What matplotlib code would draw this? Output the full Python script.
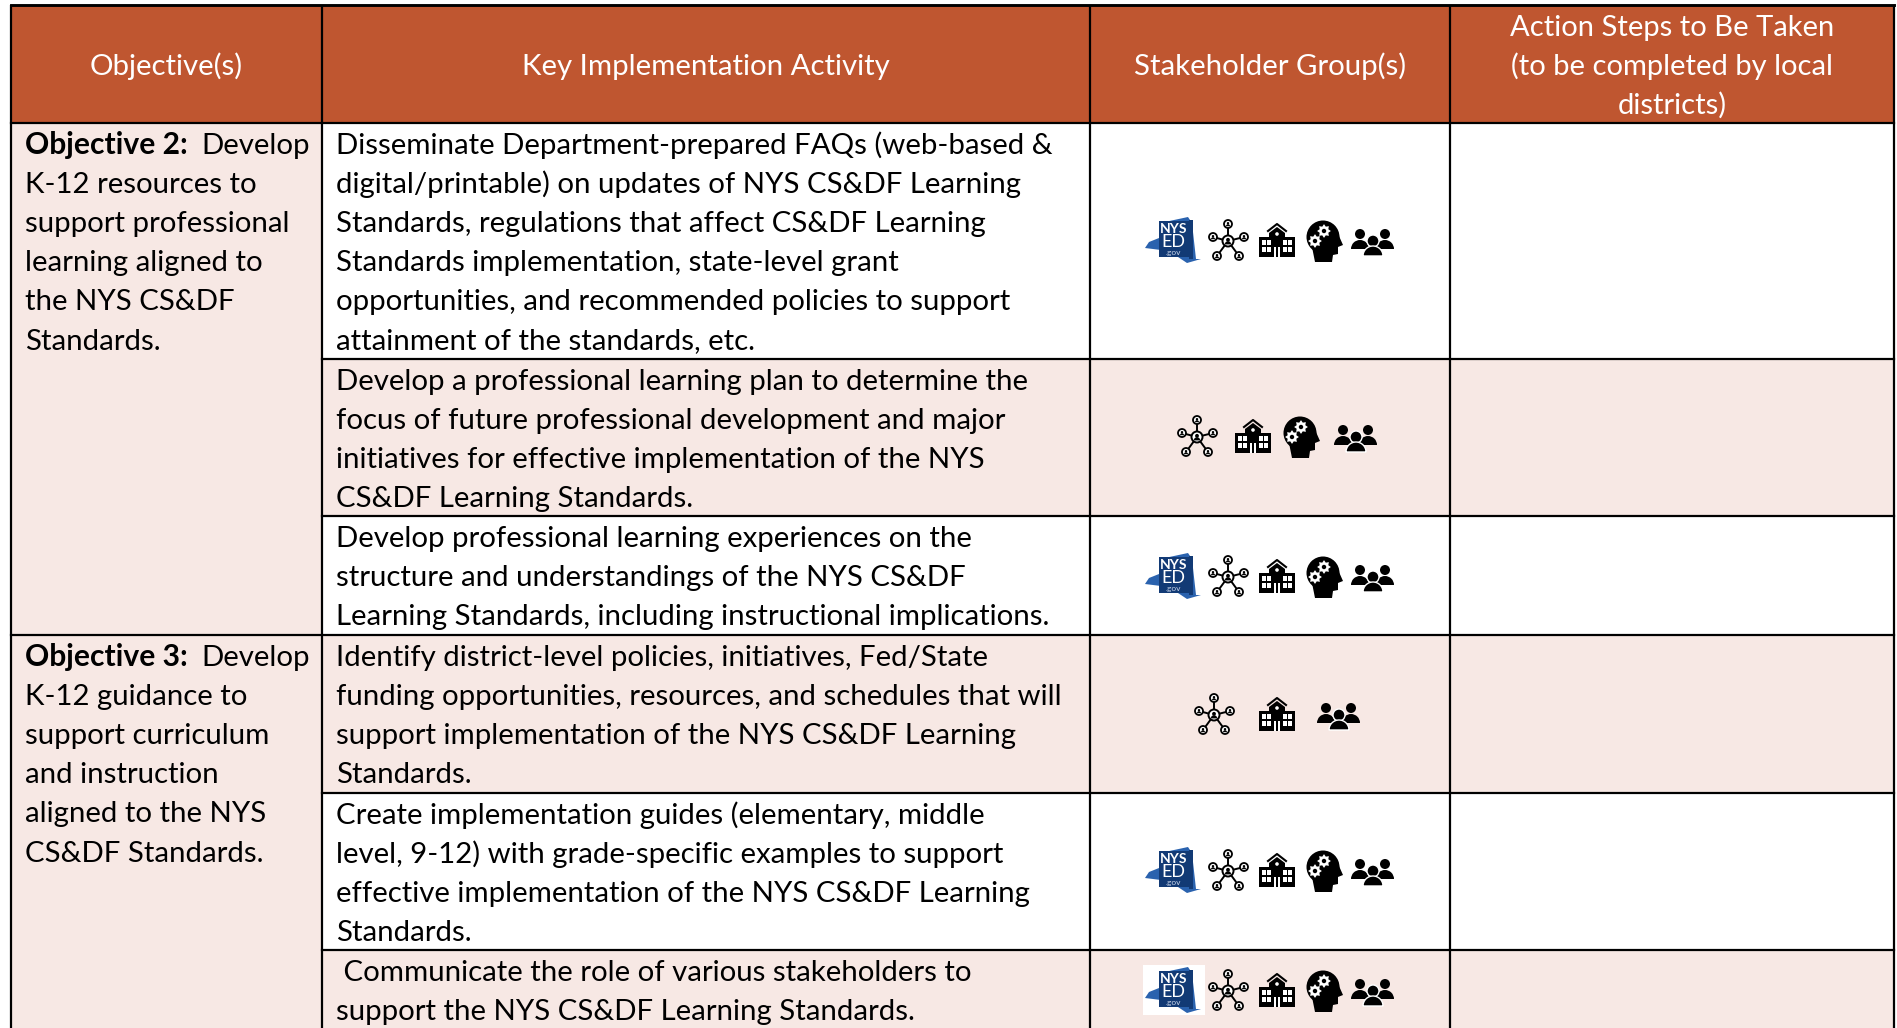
import numpy as np
import matplotlib
matplotlib.use("Agg")
import matplotlib.pyplot as plt
from matplotlib.patches import Rectangle, Circle, Wedge, Polygon

plt.rcParams["font.family"] = ["Lato", "DejaVu Sans"]

# table content
headers = ["Objective(s)", "Key Implementation Activity", "Stakeholder Group(s)",
           "Action Steps to Be Taken\n(to be completed by local\ndistricts)"]

obj2_title = "Objective 2:"
obj2_first = "  Develop"
obj2_rest = ["K-12 resources to", "support professional", "learning aligned to",
             "the NYS CS&DF", "Standards."]
obj3_title = "Objective 3:"
obj3_first = "  Develop"
obj3_rest = ["K-12 guidance to", "support curriculum", "and instruction",
             "aligned to the NYS", "CS&DF Standards."]

activities = [
    ["Disseminate Department-prepared FAQs (web-based &",
     "digital/printable) on updates of NYS CS&DF Learning",
     "Standards, regulations that affect CS&DF Learning",
     "Standards implementation, state-level grant",
     "opportunities, and recommended policies to support",
     "attainment of the standards, etc."],
    ["Develop a professional learning plan to determine the",
     "focus of future professional development and major",
     "initiatives for effective implementation of the NYS",
     "CS&DF Learning Standards."],
    ["Develop professional learning experiences on the",
     "structure and understandings of the NYS CS&DF",
     "Learning Standards, including instructional implications."],
    ["Identify district-level policies, initiatives, Fed/State",
     "funding opportunities, resources, and schedules that will",
     "support implementation of the NYS CS&DF Learning",
     "Standards."],
    ["Create implementation guides (elementary, middle",
     "level, 9-12) with grade-specific examples to support",
     "effective implementation of the NYS CS&DF Learning",
     "Standards."],
    [" Communicate the role of various stakeholders to",
     "support the NYS CS&DF Learning Standards."],
]

stakeholders = [
    ["ned", "net", "school", "head", "people"],
    ["net", "school", "head", "people"],
    ["ned", "net", "school", "head", "people"],
    ["net", "school", "people"],
    ["ned", "net", "school", "head", "people"],
    ["ned", "net", "school", "head", "people"],
]

# layout in pixels
W, H = 1897, 1028
col_x = [11, 322, 1090, 1450, 1894]
row_y = [123, 359, 516, 635, 793, 950, 1040]
top = 5
pitch = 39.1
FS = 21.2
ORANGE = "#BF5630"
PINK = "#F7E8E4"

icon_y = [241, 437, 577, 715, 871, 991]
icon_x = {5: {"ned": 1171, "net": 1228, "school": 1277, "head": 1325, "people": 1373},
          4: {"net": 1197, "school": 1253, "head": 1302, "people": 1356},
          3: {"net": 1214, "school": 1277, "people": 1339}}

fig = plt.figure(figsize=(W / 100, H / 100), dpi=100)
ax = fig.add_axes([0, 0, 1, 1])
ax.set_xlim(0, W)
ax.set_ylim(H, 0)
ax.axis("off")


def draw_ned(x, y, bg=False):
    if bg:
        ax.add_patch(Rectangle((x - 28, y - 26), 62, 50, fc="white", ec="none", zorder=3))
    ax.add_patch(Polygon([(x - 26, y + 7), (x - 22, y + 1), (x - 12, y - 3), (x - 11, y - 18),
                          (x + 17, y - 24), (x + 21, y - 18), (x + 25, y + 18), (x + 30, y + 18),
                          (x + 16, y + 22), (x - 2, y + 10)], fc="#2A62AE", ec="none", zorder=4))
    ax.add_patch(Rectangle((x - 12, y - 20), 30, 36, fc="#123A75", ec="none", zorder=5))
    ax.add_patch(Rectangle((x + 18, y - 21), 4, 39, fc="#123A75", ec="none", zorder=5))
    ax.text(x + 3, y - 12, "NYS", color="white", fontsize=10, fontweight="bold",
            ha="center", va="center", zorder=6)
    ax.text(x + 2, y + 1, "ED", color="white", fontsize=13, ha="center", va="center", zorder=6)
    ax.text(x + 2, y + 12, ".gov", color="#C8D4E8", fontsize=6, ha="center", va="center", zorder=6)


def draw_net(x, y):
    nodes = [(0, -17), (-15, -4), (16, -4), (-11, 15), (11, 15)]
    for dx, dy in nodes:
        ax.plot([x, x + dx], [y, y + dy], color="black", lw=1.4, zorder=4)
    ax.add_patch(Circle((x, y), 5.5, fc="white", ec="black", lw=1.4, zorder=5))
    ax.add_patch(Circle((x, y - 1.2), 1.9, fc="black", ec="none", zorder=6))
    ax.add_patch(Wedge((x, y + 3.4), 3.2, 180, 360, fc="black", ec="none", zorder=6))
    for dx, dy in nodes:
        ax.add_patch(Circle((x + dx, y + dy), 4, fc="white", ec="black", lw=1.3, zorder=5))
        ax.add_patch(Circle((x + dx, y + dy - 0.8), 1.2, fc="black", ec="none", zorder=6))
        ax.add_patch(Wedge((x + dx, y + dy + 2.2), 2, 180, 360, fc="black", ec="none", zorder=6))


def draw_school(x, y):
    ax.add_patch(Rectangle((x - 18, y - 4), 36, 20, fc="black", ec="none", zorder=4))
    ax.add_patch(Polygon([(x - 8, y - 8), (x, y - 14), (x + 8, y - 8), (x + 8, y), (x - 8, y)],
                         fc="black", ec="none", zorder=4))
    ax.plot([x - 9, x, x + 9], [y - 10, y - 17, y - 10], color="black", lw=1.5, zorder=4)
    ax.add_patch(Circle((x, y - 7), 1.8, fc="white", ec="none", zorder=5))
    for wx in [-15, -10, 6, 11]:
        for wy in [-1, 6]:
            ax.add_patch(Rectangle((x + wx, y + wy), 4, 5, fc="white", ec="none", zorder=5))
    ax.add_patch(Rectangle((x - 3, y + 6), 6, 10, fc="white", ec="none", zorder=5))
    ax.add_patch(Rectangle((x - 1, y + 6), 2, 10, fc="black", ec="none", zorder=6))


def draw_gear(x, y, r):
    ang = np.linspace(0, 2 * np.pi, 16, endpoint=False)
    rad = np.where(np.arange(16) % 2 == 0, r * 1.25, r * 0.85)
    ax.add_patch(Polygon(np.c_[x + rad * np.cos(ang), y + rad * np.sin(ang)],
                         fc="white", ec="none", zorder=5))
    ax.add_patch(Circle((x, y), r * 0.4, fc="black", ec="none", zorder=6))


def draw_head(x, y):
    ax.add_patch(Circle((x - 2, y - 4), 16.5, fc="black", ec="none", zorder=4))
    ax.add_patch(Polygon([(x - 13, y + 6), (x - 10, y + 21), (x + 7, y + 21), (x + 8, y + 14),
                          (x + 13, y + 13), (x + 13, y + 6), (x + 18, y + 4), (x + 14, y - 5),
                          (x + 5, y - 8)], fc="black", ec="none", zorder=4))
    draw_gear(x - 1, y - 10, 5.5)
    draw_gear(x - 10, y + 0, 5.5)


def draw_people(x, y):
    for dx in [-13, 12]:
        ax.add_patch(Circle((x + dx, y - 7), 5, fc="black", ec="none", zorder=4))
        ax.add_patch(Wedge((x + dx, y + 8), 9, 180, 360, fc="black", ec="none", zorder=4))
    ax.add_patch(Circle((x, y), 6, fc="black", ec="white", lw=1, zorder=5))
    ax.add_patch(Wedge((x, y + 15), 10, 180, 360, fc="black", ec="white", lw=1, zorder=5))


def label_lines(x, y, lines, **kw):
    for i, line in enumerate(lines):
        ax.text(x, y + i * pitch, line, fontsize=FS, va="baseline", ha="left", color="black", **kw)


# fills
ax.add_patch(Rectangle((col_x[0], top), col_x[-1] - col_x[0], row_y[0] - top, fc=ORANGE, ec="none"))
ax.add_patch(Rectangle((col_x[0], row_y[0]), col_x[1] - col_x[0], H - row_y[0], fc=PINK, ec="none"))
for i in range(6):
    c = "white" if i % 2 == 0 else PINK
    ax.add_patch(Rectangle((col_x[1], row_y[i]), col_x[-1] - col_x[1], row_y[i + 1] - row_y[i], fc=c, ec="none"))

# rules
lw = 1.6
for x in col_x:
    ax.plot([x, x], [top, H + 5], color="black", lw=lw, solid_capstyle="butt", zorder=2)
ax.plot([col_x[0], col_x[-1]], [top, top], color="black", lw=lw * 1.3, zorder=2)
for i, y in enumerate(row_y[:-1]):
    x0 = col_x[0] if i in (0, 3) else col_x[1]
    ax.plot([x0, col_x[-1]], [y, y], color="black", lw=lw, zorder=2)

# header
for i, h in enumerate(headers):
    cx = (col_x[i] + col_x[i + 1]) / 2
    if "\n" in h:
        for j, part in enumerate(h.split("\n")):
            ax.text(cx, 36 + j * pitch, part, color="white", fontsize=21, ha="center", va="baseline")
    else:
        ax.text(cx, 75, h, color="white", fontsize=21.2, ha="center", va="baseline")

# objectives
renderer = fig.canvas.get_renderer()
for title, first, rest, y0 in [(obj2_title, obj2_first, obj2_rest, row_y[0] + 31),
                               (obj3_title, obj3_first, obj3_rest, row_y[3] + 31)]:
    t = ax.text(25, y0, title, fontsize=21.6, fontweight="bold", va="baseline", ha="left", color="black")
    bb = t.get_window_extent(renderer)
    ax.text(bb.x1 + 14, y0, first.strip(), fontsize=FS, va="baseline", ha="left", color="black")
    label_lines(25, y0 + pitch, rest)

# activities and icons
draw = {"net": draw_net, "school": draw_school, "head": draw_head, "people": draw_people}
for i, lines in enumerate(activities):
    label_lines(336, row_y[i] + 31, lines)
    xs = icon_x[len(stakeholders[i])]
    for name in stakeholders[i]:
        if name == "ned":
            draw_ned(xs[name], icon_y[i], bg=(i == 5))
        else:
            draw[name](xs[name], icon_y[i])

fig.savefig("out.png", dpi=100)
